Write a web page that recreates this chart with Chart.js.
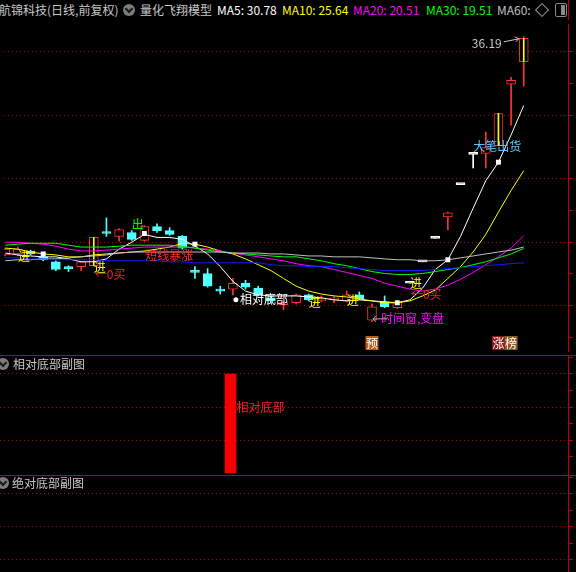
<!DOCTYPE html>
<html>
<head>
<meta charset="utf-8">
<title>航锦科技 量化飞翔模型</title>
<script src="https://cdn.jsdelivr.net/npm/chart.js@4.4.1/dist/chart.umd.min.js"></script>
<style>
  html, body { margin: 0; padding: 0; background: #000; }
  body { position: relative; width: 576px; height: 572px; overflow: hidden;
         font-family: "Noto Sans CJK SC", "DejaVu Sans", sans-serif; font-size: 12px; }
  canvas { position: absolute; left: 0; }
  .t { position: absolute; white-space: nowrap; line-height: 14px; }
  .sep { position: absolute; left: 0; width: 576px; height: 1px; background: #c00000; }
  .vline { position: absolute; left: 568px; top: 0; width: 1px; height: 20px; background: #c00000; }
  .dot { position: absolute; width: 12px; height: 12px; border-radius: 50%; background: #7c7c7c; }
  .dot::after { content: ''; position: absolute; left: 3px; top: 2px; width: 4px; height: 4px;
                border-right: 2px solid #1a1a1a; border-bottom: 2px solid #1a1a1a; transform: rotate(45deg); }
  .diamond { position: absolute; left: 537px; top: 5px; width: 8px; height: 8px; border: 1px solid #9a9a9a; transform: rotate(45deg); }
  .box { position: absolute; left: 555px; top: 3px; width: 10px; height: 12px; border: 1px solid #8a8a8a; border-radius: 2px; }
  .box::after { content: ''; position: absolute; right: 1px; top: 1px; width: 4px; height: 10px; background: #8a8a8a; }
</style>
</head>
<body>
<div class="t" style="left:-1px;top:3px;color:#c8c8c8">航锦科技(日线,前复权)</div>
<div class="dot" style="left:123px;top:4px"></div>
<div class="t" style="left:140px;top:3px;color:#c8c8c8">量化飞翔模型</div>
<div class="t" id="lab5" style="left:217px;top:3px;color:#ffffff"></div>
<div class="t" id="lab10" style="left:282px;top:3px;color:#ffff00"></div>
<div class="t" id="lab20" style="left:353px;top:3px;color:#ff00ff"></div>
<div class="t" id="lab30" style="left:426px;top:3px;color:#00ff00"></div>
<div class="t" style="left:497px;top:3px;color:#c0c0c0">MA60:</div>
<div class="diamond"></div>
<div class="box"></div>
<div class="vline"></div>

<canvas id="main" width="576" height="335" style="top:20px"></canvas>
<div class="sep" style="top:355px"></div>
<canvas id="sub1" width="576" height="119" style="top:356px"></canvas>
<div class="sep" style="top:475px"></div>
<canvas id="sub2" width="576" height="96" style="top:476px"></canvas>

<div class="dot" style="left:-3px;top:358px"></div>
<div class="t" style="left:13px;top:357px;color:#c8c8c8">相对底部副图</div>
<div class="dot" style="left:-3px;top:477px"></div>
<div class="t" style="left:12px;top:476px;color:#c8c8c8">绝对底部副图</div>

<script>
// daily candles, oldest first
const openP  = [19.00, 19.08, 19.31, 18.85, 18.46, 17.92, 18.08, 18.15, 20.69, 20.46,
                20.77, 20.15, 21.23, 20.92, 20.46, 17.62, 17.54, 16.15, 16.31, 16.77,
                16.38, 15.62, 15.08, 15.23, 15.85, 15.38, 15.46, 15.38, 15.85, 13.85,
                15.31, 14.85, 16.77, 18.46, 20.31, 22.00, 24.54, 26.92, 27.00, 27.62,
                32.46, 34.23];
const highP  = [19.54, 19.62, 19.38, 19.00, 18.54, 18.15, 18.46, 20.38, 21.92, 21.08,
                20.92, 21.31, 21.46, 21.15, 20.54, 18.08, 17.92, 16.54, 17.15, 17.00,
                16.54, 15.77, 15.31, 15.92, 15.92, 15.77, 15.69, 16.15, 16.08, 15.15,
                15.77, 15.38, 16.77, 18.46, 20.31, 22.38, 24.54, 26.92, 28.69, 30.15,
                33.00, 36.19];
const lowP   = [18.92, 18.92, 19.00, 18.54, 17.77, 17.69, 17.77, 18.15, 20.46, 20.08,
                20.15, 20.08, 20.77, 20.54, 19.46, 17.15, 16.46, 15.92, 15.85, 16.31,
                15.77, 15.23, 14.69, 15.15, 15.38, 15.31, 15.23, 15.31, 15.46, 13.77,
                14.85, 14.77, 16.77, 18.46, 20.31, 21.00, 24.54, 25.85, 25.85, 27.62,
                29.23, 32.31];
const closeP = [19.46, 19.46, 19.08, 18.62, 17.85, 17.92, 18.46, 20.38, 20.69, 21.00,
                20.23, 21.23, 20.92, 20.62, 19.54, 17.62, 16.54, 16.15, 16.77, 16.46,
                15.85, 15.38, 15.23, 15.85, 15.46, 15.54, 15.50, 15.85, 15.54, 14.92,
                14.92, 15.31, 16.77, 18.46, 20.31, 22.31, 24.54, 26.92, 27.46, 30.15,
                32.77, 36.08];

const ma5   = [19.15, 19.00, 18.92, 18.85, 18.85, 18.69, 18.46, 18.46, 18.69, 19.46,
               20.00, 20.62, 20.38, 20.38, 20.23, 19.69, 19.08, 18.08, 16.92, 16.15,
               15.85, 15.77, 15.77, 15.77, 15.69, 15.62, 15.46, 15.38, 15.46, 15.38,
               15.31, 15.23, 15.46, 16.38, 17.85, 18.62, 20.46, 22.69, 24.85, 26.31,
               28.46, 30.78];
const ma10  = [19.54, 19.46, 19.23, 19.08, 19.00, 18.85, 18.85, 19.00, 19.08, 19.15,
               19.23, 19.31, 19.46, 19.62, 19.92, 19.85, 19.62, 19.31, 19.08, 18.69,
               18.23, 17.77, 17.15, 16.54, 16.15, 15.92, 15.77, 15.69, 15.54, 15.38,
               15.23, 15.23, 15.38, 15.77, 16.23, 17.15, 18.08, 19.23, 20.62, 22.38,
               24.08, 25.64];
const ma20  = [20.00, 20.00, 19.92, 19.85, 19.69, 19.46, 19.31, 19.31, 19.38, 19.46,
               19.54, 19.62, 19.62, 19.62, 19.62, 19.54, 19.46, 19.31, 19.15, 19.00,
               18.85, 18.69, 18.54, 18.31, 18.15, 18.08, 17.85, 17.62, 17.38, 17.15,
               16.77, 16.54, 16.31, 16.15, 16.31, 16.62, 17.08, 17.62, 18.23, 18.85,
               19.54, 20.51];
const ma30  = [19.77, 19.85, 19.92, 19.92, 19.92, 19.77, 19.62, 19.62, 19.62, 19.69,
               19.77, 19.77, 19.77, 19.77, 19.69, 19.54, 19.38, 19.23, 19.15, 19.08,
               19.00, 18.92, 18.85, 18.85, 18.69, 18.54, 18.31, 18.15, 17.92, 17.69,
               17.54, 17.46, 17.46, 17.54, 17.69, 17.85, 18.00, 18.23, 18.46, 18.77,
               19.08, 19.51];
const ma60  = [18.54, 18.62, 18.62, 18.69, 18.69, 18.77, 18.85, 18.92, 19.00, 19.15,
               19.23, 19.23, 19.23, 19.23, 19.23, 19.23, 19.23, 19.23, 19.15, 19.15,
               19.15, 19.08, 19.08, 19.00, 18.92, 18.92, 18.85, 18.85, 18.85, 18.77,
               18.69, 18.62, 18.62, 18.54, 18.54, 18.62, 18.77, 18.92, 19.08, 19.23,
               19.38, 19.62];
const ma120 = [18.77, 18.77, 18.69, 18.69, 18.62, 18.62, 18.62, 18.62, 18.54, 18.54,
               18.54, 18.54, 18.54, 18.46, 18.46, 18.38, 18.38, 18.38, 18.38, 18.38,
               18.38, 18.23, 18.15, 18.15, 18.08, 18.08, 18.08, 18.00, 17.92, 17.85,
               17.77, 17.77, 17.77, 17.77, 17.85, 17.92, 18.00, 18.08, 18.15, 18.23,
               18.31, 18.38];

// signal marks
const limitIdx = [7, 39, 41];
const markIdx = [3, 11, 15, 31, 35, 39];
const markVal = [19.08, 20.69, 19.85, 15.23, 18.62, 26.31];
const jinIdx = [1, 7, 24, 27, 32];
const jinVal = [18.85, 18.04, 15.23, 15.38, 16.77];
const buyIdx = [7, 32];
const buyVal = [17.46, 15.85];
const sellIdx = [10];
const sellVal = [21.38];
const noteIdx = [11, 18, 29, 37];
const noteVal = [19.00, 15.46, 14.00, 27.54];
const noteText = ['短线暴涨', '相对底部', '时间窗,变盘', '大笔出货'];
const tagIdx = [29, 39, 40];
const tagText = ['预', '涨', '榜'];
const bottomIdx = [18];
const bottomVal = [3];
const priceTicks = [12.5, 15, 17.5, 20, 22.5, 25, 27.5, 30, 32.5, 35];
const subTicks = [0.5, 1, 1.5, 2, 2.5, 3, 3.5];

const UP = '#ff3232';
const DOWN = '#54ffff';
const FLAT = '#ffffff';
const GRID = '#c00000';
const FONT = '12px "Noto Sans CJK SC", sans-serif';

const idx = openP.map((_, i) => i);
const colorOf = (i) => {
  if (closeP[i] > openP[i]) return UP;
  if (closeP[i] < openP[i]) return DOWN;
  return highP[i] === closeP[i] ? FLAT : DOWN;
};

document.getElementById('lab5').textContent = 'MA5: ' + ma5[ma5.length - 1].toFixed(2);
document.getElementById('lab10').textContent = 'MA10: ' + ma10[ma10.length - 1].toFixed(2);
document.getElementById('lab20').textContent = 'MA20: ' + ma20[ma20.length - 1].toFixed(2);
document.getElementById('lab30').textContent = 'MA30: ' + ma30[ma30.length - 1].toFixed(2);

const xScale = { type: 'linear', min: -0.1, max: 44.5, offset: false, display: false };

function rightAxis(min, max, ticks, gridStep) {
  return {
    position: 'right',
    min: min,
    max: max,
    afterBuildTicks: (s) => { s.ticks = ticks.map((v) => ({ value: v })); },
    ticks: { display: false },
    grid: {
      color: (c) => (c.tick && Number.isInteger(c.tick.value / gridStep) ? GRID : 'rgba(0,0,0,0)'),
      tickColor: GRID,
      tickLength: 5,
      lineWidth: 1
    },
    border: { display: true, color: GRID, width: 1, dash: [1, 3] }
  };
}

const baseOptions = {
  responsive: false,
  animation: false,
  events: [],
  layout: { padding: { left: 0, right: 3, top: 0, bottom: 0 } },
  plugins: { legend: { display: false }, tooltip: { enabled: false } }
};

function lineSet(values, color) {
  return {
    type: 'line',
    data: values.map((v, i) => ({ x: i, y: v })),
    borderColor: color,
    borderWidth: 1,
    pointRadius: 0,
    tension: 0,
    order: 2
  };
}

const annotations = {
  id: 'annotations',
  afterDatasetsDraw(chart) {
    const { ctx, scales: { x, y }, chartArea } = chart;
    ctx.save();
    ctx.font = FONT;
    ctx.textBaseline = 'middle';
    ctx.textAlign = 'left';

    ctx.fillStyle = '#ffff00';
    jinIdx.forEach((i, k) => ctx.fillText('进', x.getPixelForValue(i), y.getPixelForValue(jinVal[k])));

    ctx.fillStyle = '#ff2020';
    buyIdx.forEach((i, k) => ctx.fillText('←0买', x.getPixelForValue(i) + 1, y.getPixelForValue(buyVal[k])));

    ctx.fillStyle = '#00ff00';
    sellIdx.forEach((i, k) => ctx.fillText('出', x.getPixelForValue(i), y.getPixelForValue(sellVal[k])));

    const noteColor = ['#ff2a2a', '#ffffff', '#ff00ff', '#5cc8ff'];
    const noteShift = [1, 7, 9, 0];
    noteIdx.forEach((i, k) => {
      const px = x.getPixelForValue(i);
      const py = y.getPixelForValue(noteVal[k]);
      ctx.fillStyle = noteColor[k];
      ctx.fillText(noteText[k], px + noteShift[k], py);
      if (k === 1) {
        ctx.beginPath();
        ctx.arc(px + 3, py, 2.5, 0, Math.PI * 2);
        ctx.fill();
      }
      if (k === 2) {
        ctx.strokeStyle = '#b4b4b4';
        ctx.lineWidth = 1;
        ctx.beginPath();
        ctx.moveTo(px + 1, py + 0.5);
        ctx.lineTo(px + 15, py + 0.5);
        ctx.moveTo(px + 1, py + 0.5);
        ctx.lineTo(px + 4, py - 2.5);
        ctx.moveTo(px + 1, py + 0.5);
        ctx.lineTo(px + 4, py + 3.5);
        ctx.stroke();
      }
    });

    // highest price label
    const top = highP.indexOf(Math.max(...highP));
    const hx = x.getPixelForValue(top);
    const hy = y.getPixelForValue(highP[top]);
    ctx.fillStyle = '#c8c8c8';
    ctx.textAlign = 'right';
    ctx.fillText(highP[top].toFixed(2), hx - 22, hy + 7);
    ctx.strokeStyle = '#c8c8c8';
    ctx.beginPath();
    ctx.moveTo(hx - 20, hy + 5);
    ctx.lineTo(hx - 5, hy + 2);
    ctx.moveTo(hx - 5, hy + 2);
    ctx.lineTo(hx - 9, hy);
    ctx.moveTo(hx - 5, hy + 2);
    ctx.lineTo(hx - 8, hy + 5);
    ctx.stroke();

    // bottom tags
    const tagBg = ['#b85e18', '#8c1414', '#8c5a1e'];
    ctx.textAlign = 'center';
    tagIdx.forEach((i, k) => {
      const px = x.getPixelForValue(i);
      const py = chartArea.bottom - 8;
      ctx.fillStyle = tagBg[k];
      ctx.fillRect(px - 6.5, py - 7, 13, 14);
      ctx.fillStyle = '#ffffff';
      ctx.fillText(tagText[k], px, py + 0.5);
    });
    ctx.restore();
  }
};

new Chart(document.getElementById('main'), {
  type: 'bar',
  data: {
    datasets: [
      {
        label: 'wick',
        data: idx.map((i) => ({ x: i, y: [lowP[i], highP[i]] })),
        backgroundColor: idx.map(colorOf),
        barThickness: 1,
        maxBarThickness: 1,
        grouped: false,
        order: 5
      },
      {
        label: 'body',
        data: idx.map((i) => ({ x: i, y: [openP[i], closeP[i]] })),
        backgroundColor: idx.map((i) => (colorOf(i) === UP ? '#000000' : colorOf(i))),
        borderColor: idx.map(colorOf),
        borderWidth: 1,
        borderSkipped: false,
        barThickness: 9,
        maxBarThickness: 9,
        minBarLength: 2,
        grouped: false,
        order: 4
      },
      {
        label: 'limit',
        data: limitIdx.map((i) => ({ x: i, y: [openP[i], closeP[i]] })),
        backgroundColor: '#ffff00',
        barThickness: 1,
        maxBarThickness: 1,
        grouped: false,
        order: 3
      },
      lineSet(ma120, '#0a1eff'),
      lineSet(ma60, '#c0c0c0'),
      lineSet(ma30, '#00ff00'),
      lineSet(ma20, '#ff00ff'),
      lineSet(ma10, '#ffff00'),
      lineSet(ma5, '#ffffff'),
      {
        type: 'line',
        label: 'mark',
        data: markIdx.map((i, k) => ({ x: i, y: markVal[k] })),
        showLine: false,
        pointStyle: 'rect',
        pointRadius: 3.5,
        backgroundColor: '#ffffff',
        borderColor: '#ffffff',
        borderWidth: 0,
        order: 1
      }
    ]
  },
  options: Object.assign({}, baseOptions, {
    scales: { x: xScale, y: rightAxis(11.43, 37.2, priceTicks, 5) }
  }),
  plugins: [annotations]
});

const subLabel = {
  id: 'subLabel',
  afterDatasetsDraw(chart) {
    const { ctx, scales: { x, y } } = chart;
    ctx.save();
    ctx.font = FONT;
    ctx.textBaseline = 'middle';
    ctx.fillStyle = '#ff2020';
    bottomIdx.forEach((i) => ctx.fillText('相对底部', x.getPixelForValue(i) + 6, y.getPixelForValue(2)));
    ctx.restore();
  }
};

new Chart(document.getElementById('sub1'), {
  type: 'bar',
  data: {
    datasets: [{
      data: bottomIdx.map((i, k) => ({ x: i, y: bottomVal[k] })),
      backgroundColor: '#f40000',
      barThickness: 11,
      maxBarThickness: 11,
      grouped: false
    }]
  },
  options: Object.assign({}, baseOptions, {
    scales: { x: xScale, y: rightAxis(-0.06, 3.545, subTicks, 1) }
  }),
  plugins: [subLabel]
});

new Chart(document.getElementById('sub2'), {
  type: 'bar',
  data: { datasets: [] },
  options: Object.assign({}, baseOptions, {
    scales: { x: xScale, y: rightAxis(0.636, 3.545, subTicks, 1) }
  })
});
</script>
</body>
</html>
